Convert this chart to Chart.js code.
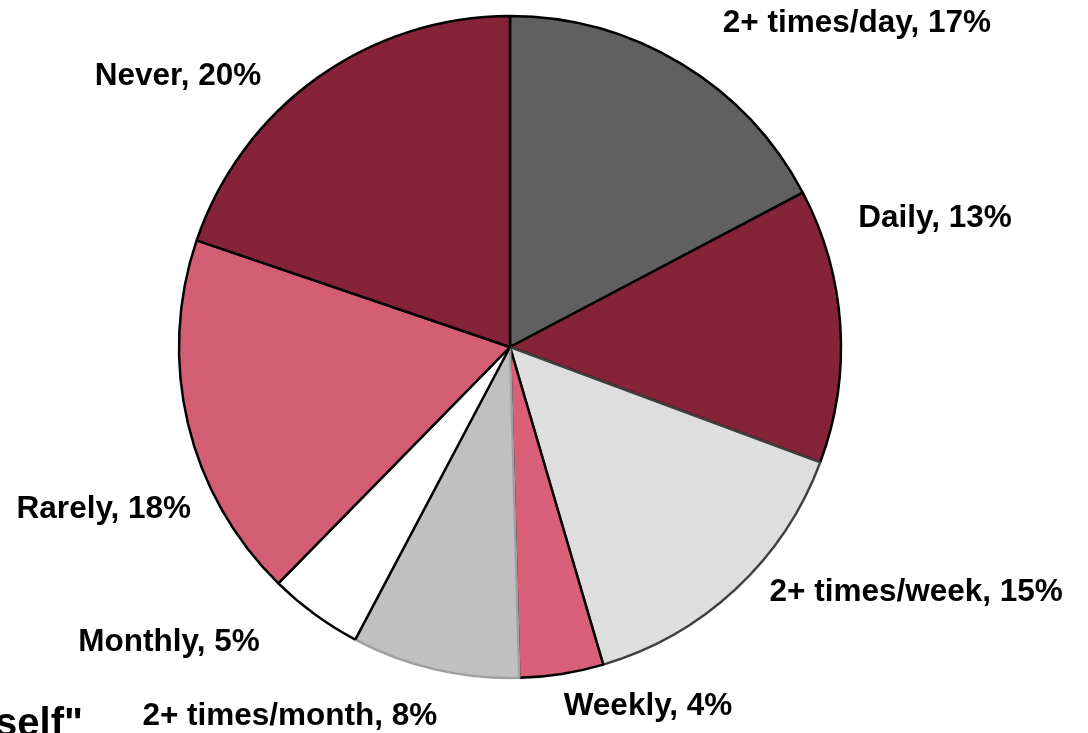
<!DOCTYPE html>
<html>
<head>
<meta charset="utf-8">
<script src="https://cdn.jsdelivr.net/npm/chart.js@4/dist/chart.umd.min.js"></script>
<style>
  html, body { margin: 0; padding: 0; background: #fff; overflow: hidden; }
  .chartContainer { width: 1088px; height: 733px; position: relative; }
</style>
</head>
<body>
<div class="chartContainer"><canvas id="pie"></canvas></div>
<script>
// categories, clockwise from 12 o'clock
const categories = ['2+ times/day', 'Daily', '2+ times/week', 'Weekly', '2+ times/month', 'Monthly', 'Rarely', 'Never'];
// slice sizes (%)
const shares = [17.3, 13.4, 14.8, 4.1, 8.2, 4.6, 17.9, 19.8];
// printed percentages
const pctLabels = ['17%', '13%', '15%', '4%', '8%', '5%', '18%', '20%'];

const sliceColors = ['#606060', '#852338', '#dedede', '#da607a', '#c0c0c0', '#ffffff', '#d35e74', '#852338'];
const sliceBorders = ['#000000', '#000000', '#404040', '#000000', '#a0a0a0', '#000000', '#000000', '#000000'];

// label centres, as offsets from pie centre in units of the radius
const labelOffsets = [
  [1.048, -0.979], [1.284, -0.390], [1.227, 0.740], [0.417, 1.085],
  [-0.665, 1.115], [-1.030, 0.891], [-1.227, 0.489], [-1.003, -0.819]
];

const FONT = '"Liberation Sans", Arial, sans-serif';

const outsideLabels = {
  id: 'outsideLabels',
  afterDatasetsDraw(chart) {
    const {ctx} = chart;
    const arcs = chart.getDatasetMeta(0).data;
    ctx.save();
    ctx.fillStyle = '#000';
    ctx.font = 'bold 31.5px ' + FONT;
    ctx.textAlign = 'center';
    ctx.textBaseline = 'middle';
    arcs.forEach((arc, i) => {
      const r = arc.outerRadius;
      const [ox, oy] = labelOffsets[i];
      ctx.fillText(categories[i] + ', ' + pctLabels[i], arc.x + ox * r, arc.y + oy * r);
    });
    // tail of the slide title, clipped at the bottom-left corner
    ctx.font = 'bold 40px ' + FONT;
    ctx.textAlign = 'right';
    ctx.textBaseline = 'alphabetic';
    ctx.fillText('self"', 83, 736);
    ctx.restore();
  }
};

new Chart(document.getElementById('pie').getContext('2d'), {
  type: 'pie',
  data: {
    labels: categories,
    datasets: [{
      data: shares,
      backgroundColor: sliceColors,
      borderColor: sliceBorders,
      borderWidth: 2.5,
    }]
  },
  options: {
    responsive: true,
    maintainAspectRatio: false,
    animation: false,
    radius: 331,
    layout: { padding: { left: 0, right: 68, top: 0, bottom: 39 } },
    plugins: {
      legend: { display: false },
      tooltip: { enabled: false },
    },
    events: [],
  },
  plugins: [outsideLabels]
});
</script>
</body>
</html>
